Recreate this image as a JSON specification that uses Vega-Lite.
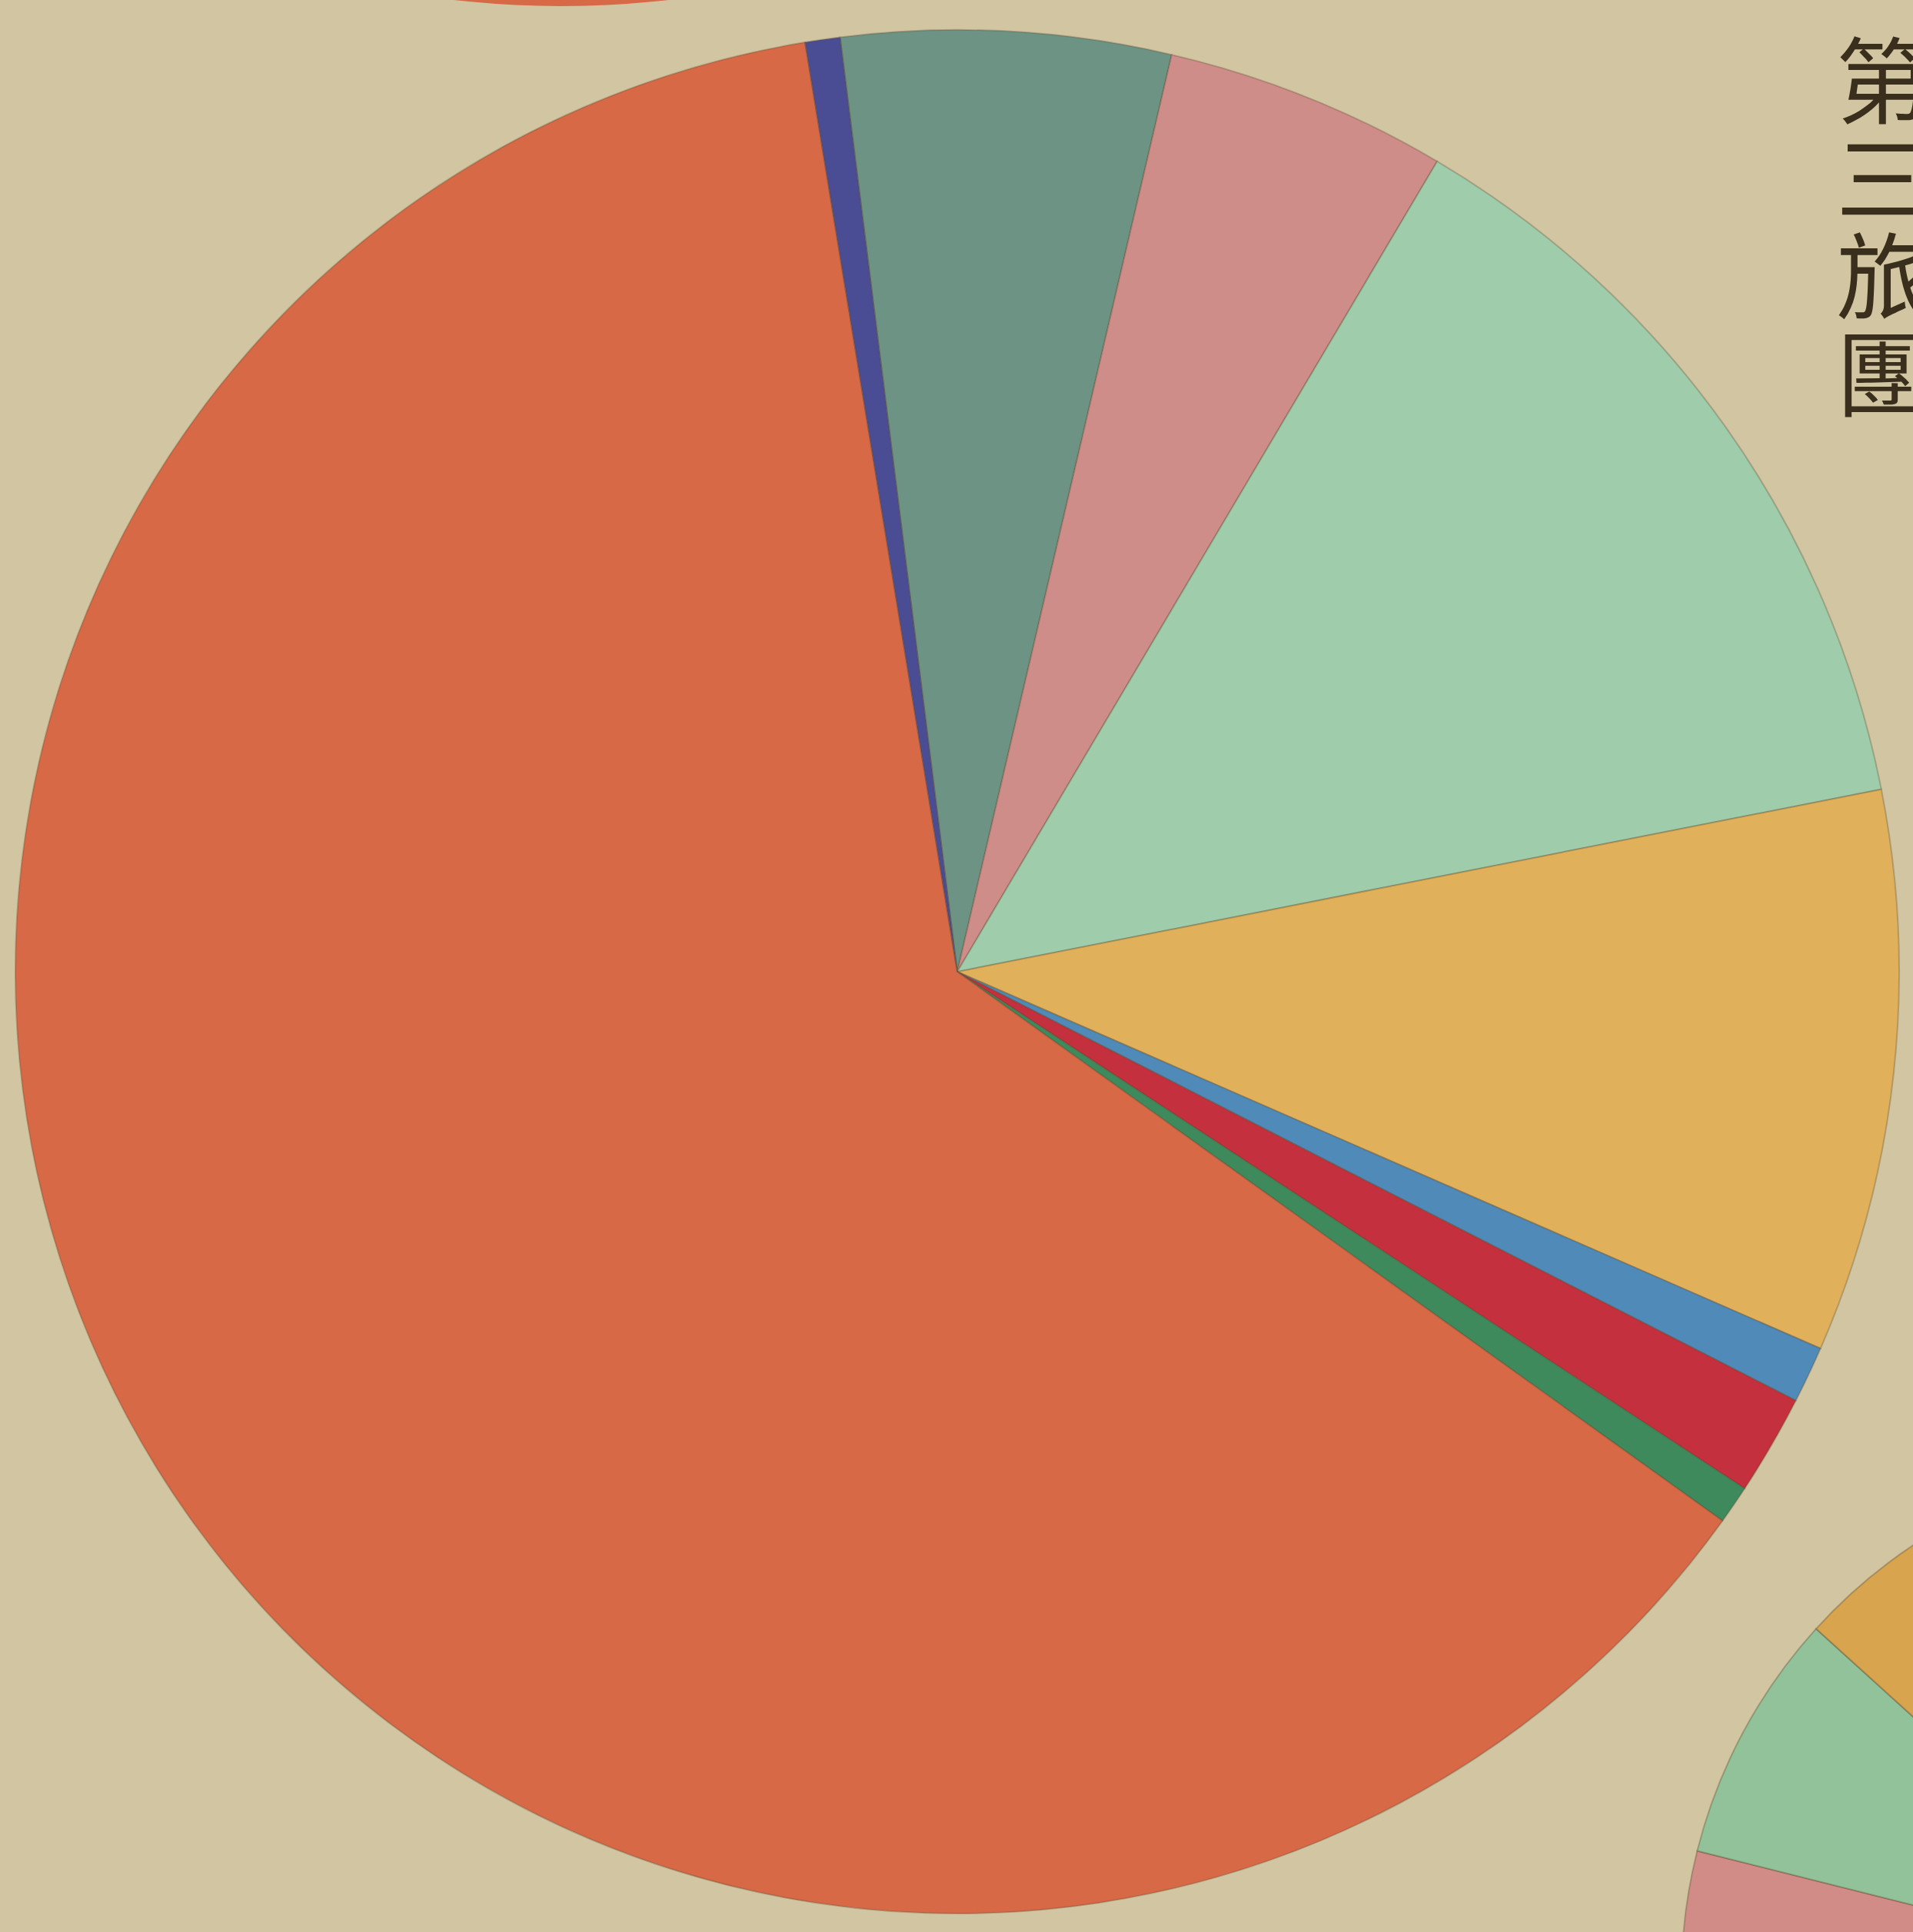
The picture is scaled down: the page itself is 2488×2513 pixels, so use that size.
{
  "$schema": "https://vega.github.io/schema/vega-lite/v6.json",
  "width": 2486,
  "height": 2498,
  "autosize": "none",
  "padding": {"left": 2, "top": 15, "right": 0, "bottom": 0},
  "background": "#d2c5a1",
  "config": {"view": {"stroke": null}},
  "layer": [
    {
      "data": {"values": [{"slice": "orange-top", "deg": 360}]},
      "mark": {"type": "arc", "x": 728, "y": -1232, "outerRadius": 1225, "fill": "#d76947"},
      "encoding": {
        "theta": {"field": "deg", "type": "quantitative", "stack": true, "scale": {"domain": [0, 360]}}
      }
    },
    {
      "data": {"values": [
        {"slice": "pink", "deg": 44.1, "seq": 1},
        {"slice": "lightgreen", "deg": 28.1, "seq": 2},
        {"slice": "yellow", "deg": 32.8, "seq": 3}
      ]},
      "mark": {"type": "arc", "x": 2860, "y": 2557, "outerRadius": 675, "stroke": "#5a4a30", "strokeWidth": 2, "strokeOpacity": 0.35},
      "encoding": {
        "theta": {"field": "deg", "type": "quantitative", "stack": true, "scale": {"domain": [0, 105], "range": [4.18879, 6.02139]}},
        "color": {"field": "slice", "type": "nominal", "legend": null,
          "scale": {"domain": ["pink", "lightgreen", "yellow"], "range": ["#d28c88", "#92c29a", "#d8a44e"]}},
        "order": {"field": "seq", "type": "quantitative"}
      }
    },
    {
      "data": {"values": [
        {"slice": "teal", "deg": 20.31, "seq": 1},
        {"slice": "pink", "deg": 17.47, "seq": 2},
        {"slice": "lightgreen", "deg": 48.2, "seq": 3},
        {"slice": "yellow", "deg": 34.75, "seq": 4},
        {"slice": "blue", "deg": 3.51, "seq": 5},
        {"slice": "red", "deg": 6.19, "seq": 6},
        {"slice": "green", "deg": 2.38, "seq": 7},
        {"slice": "orange", "deg": 225.04, "seq": 8},
        {"slice": "indigo", "deg": 2.15, "seq": 9}
      ]},
      "mark": {"type": "arc", "outerRadius": 1225, "stroke": "#5a4a30", "strokeWidth": 2, "strokeOpacity": 0.3},
      "encoding": {
        "theta": {"field": "deg", "type": "quantitative", "stack": true, "scale": {"domain": [0, 360], "range": [-0.12479, 6.1584]}},
        "color": {"field": "slice", "type": "nominal", "legend": null,
          "scale": {
            "domain": ["teal", "pink", "lightgreen", "yellow", "blue", "red", "green", "orange", "indigo"],
            "range": ["#6d9385", "#cf8d8a", "#9fcdab", "#e0b05a", "#4f8ab8", "#c4303d", "#3e8a5d", "#d76947", "#4a4c94"]
          }},
        "order": {"field": "seq", "type": "quantitative"}
      }
    },
    {
      "data": {"values": [{"label": "第\n三\n旅\n團"}]},
      "mark": {
        "type": "text",
        "x": 2386,
        "y": 40,
        "align": "left",
        "baseline": "top",
        "lineBreak": "\n",
        "lineHeight": 127,
        "fontSize": 122,
        "font": "Noto Sans CJK TC",
        "fontWeight": "normal",
        "color": "#3a2f1d"
      },
      "encoding": {
        "text": {"field": "label", "type": "nominal"}
      }
    }
  ],
  "resolve": {"scale": {"theta": "independent", "color": "independent"}}
}
